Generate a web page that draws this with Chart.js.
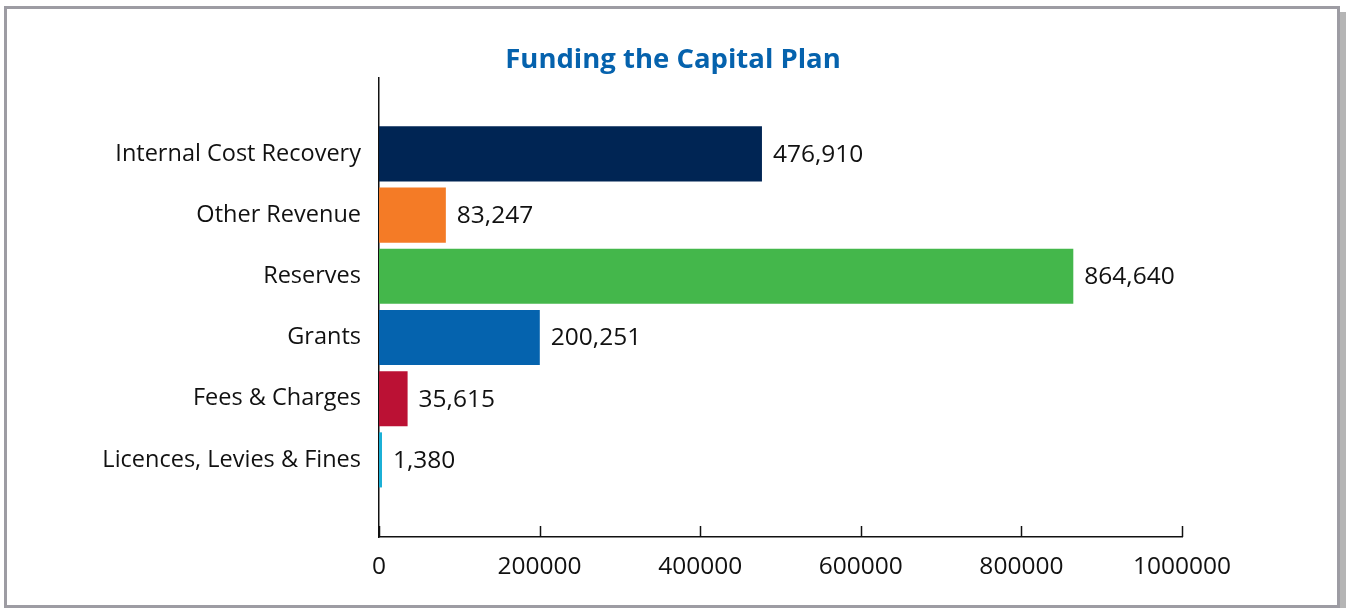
<!DOCTYPE html>
<html>
<head>
<meta charset="utf-8">
<title>Funding the Capital Plan</title>
<script src="https://cdn.jsdelivr.net/npm/chart.js@4"></script>
<style>
    html, body { margin: 0; padding: 0; background: #fff; }
    body { width: 1346px; height: 608px; position: relative; overflow: hidden; }
    #frame {
        position: absolute; left: 4px; top: 6px; width: 1330px; height: 596px;
        border: 3px solid #9d9ca3;
        box-shadow: 6px 6px 0 #b5b5b5;
    }
    #wrap { position: absolute; left: 0; top: 0; width: 1346px; height: 608px; }
</style>
</head>
<body>
<div id="frame"></div>
<div id="wrap"><canvas id="grafico"></canvas></div>
<script>
const categorias = ['Internal Cost Recovery', 'Other Revenue', 'Reserves', 'Grants', 'Fees & Charges', 'Licences, Levies & Fines'];
const valores = [476910, 83247, 864640, 200251, 35615, 1380];
const cores = ['#002554', '#f47b26', '#44b74b', '#0563ae', '#bb1134', '#1bb0d6'];
const ticksX = [0, 200000, 400000, 600000, 800000, 1000000];

const FONTE = "'Open Sans', 'Noto Sans', sans-serif";

// rótulos de valor à direita de cada barra
const rotulosValor = {
    id: 'rotulosValor',
    afterDatasetsDraw(chart) {
        const ctx = chart.ctx;
        const meta = chart.getDatasetMeta(0);
        ctx.save();
        ctx.font = '24.5px ' + FONTE;
        ctx.fillStyle = '#111';
        ctx.textAlign = 'left';
        ctx.textBaseline = 'middle';
        meta.data.forEach((barra, i) => {
            ctx.fillText(valores[i].toLocaleString('en-US'), barra.x + 11, barra.y + 1);
        });
        ctx.restore();
    }
};

// marcas do eixo x voltadas para dentro
const marcasInternas = {
    id: 'marcasInternas',
    afterDraw(chart) {
        const ctx = chart.ctx;
        const x = chart.scales.x;
        ctx.save();
        ctx.strokeStyle = '#111';
        ctx.lineWidth = 1.5;
        ticksX.forEach(v => {
            const px = Math.round(x.getPixelForValue(v)) + 0.5;
            ctx.beginPath();
            ctx.moveTo(px, x.top);
            ctx.lineTo(px, x.top - 11);
            ctx.stroke();
        });
        ctx.restore();
    }
};

const dados = valores.map((v, i) => ({ x: v, y: i }));

new Chart(document.getElementById('grafico'), {
    type: 'bar',
    data: {
        datasets: [{
            data: dados,
            backgroundColor: cores,
            borderWidth: 0,
            categoryPercentage: 1,
            barPercentage: 0.9,
            minBarLength: 3
        }]
    },
    options: {
        indexAxis: 'y',
        responsive: true,
        maintainAspectRatio: false,
        animation: false,
        layout: { padding: 0 },
        plugins: {
            legend: { display: false },
            tooltip: { enabled: false },
            title: {
                display: true,
                text: 'Funding the Capital Plan',
                color: '#0562ad',
                font: { family: FONTE, size: 27.5, weight: 'bold', lineHeight: 1.2 },
                padding: { top: 44, bottom: 1 }
            }
        },
        scales: {
            x: {
                type: 'linear',
                min: 0,
                max: 1000000,
                afterBuildTicks: (s) => { s.ticks = ticksX.map(v => ({ value: v })); },
                afterFit: (s) => { s.height = 71; },
                grid: { display: false, drawTicks: false },
                border: { display: true, color: '#111', width: 1.5 },
                ticks: {
                    color: '#111',
                    font: { family: FONTE, size: 24.5 },
                    padding: 15,
                    maxRotation: 0,
                    callback: (v) => String(v)
                }
            },
            y: {
                type: 'linear',
                reverse: true,
                offset: false,
                bounds: 'data',
                min: -1.24,
                max: 6.26,
                afterBuildTicks: (s) => { s.ticks = categorias.map((c, i) => ({ value: i })); },
                afterFit: (s) => { s.width = 379; },
                grid: { display: false, drawTicks: false, offset: false },
                border: { display: true, color: '#111', width: 1.5 },
                ticks: {
                    color: '#111',
                    font: { family: FONTE, size: 23.5 },
                    padding: 18,
                    callback: (v) => categorias[v] ?? ''
                }
            },
            // margem direita reservada (rótulo 1000000 e centralização do título)
            margemDireita: {
                type: 'linear',
                position: 'right',
                afterFit: (s) => { s.width = 164; },
                grid: { display: false, drawTicks: false },
                border: { display: false },
                ticks: { display: false }
            }
        }
    },
    plugins: [rotulosValor, marcasInternas]
});
</script>
</body>
</html>
